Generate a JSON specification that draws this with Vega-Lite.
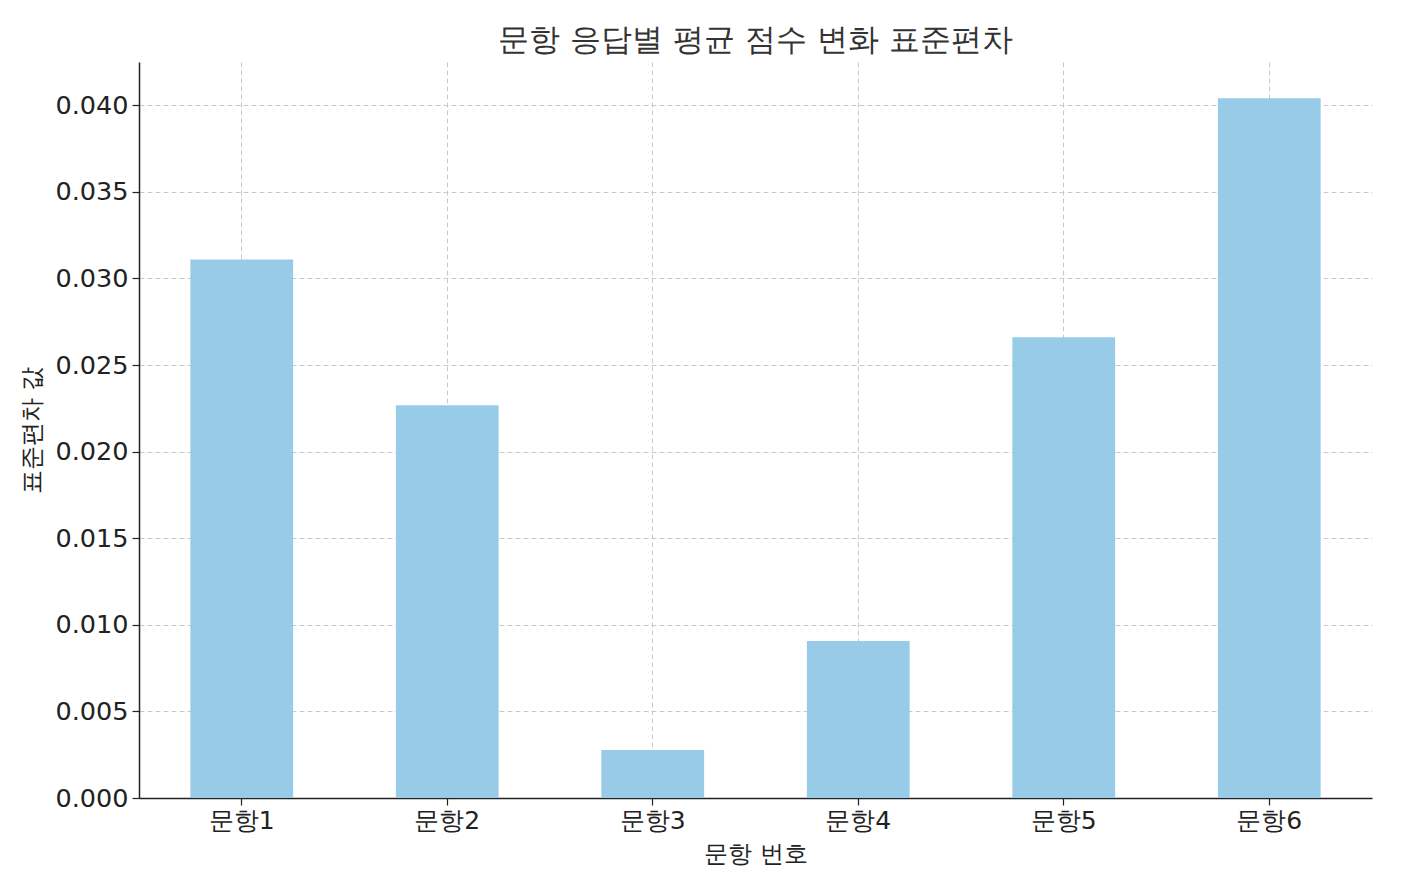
{
  "$schema": "https://vega.github.io/schema/vega-lite/v6.json",
  "width": 1233,
  "height": 736,
  "autosize": "none",
  "padding": {"left": 139, "top": 62, "right": 30, "bottom": 86},
  "background": "white",
  "config": {
    "font": "DejaVu Sans",
    "view": {"stroke": null}
  },
  "title": {
    "text": "문항 응답별 평균 점수 변화 표준편차",
    "font": "DejaVu Sans",
    "fontSize": 31,
    "fontWeight": "normal",
    "color": "#333333",
    "anchor": "middle",
    "frame": "group",
    "offset": 5
  },
  "data": {
    "values": [
      {"항목": "문항1", "값": 0.0311},
      {"항목": "문항2", "값": 0.02268},
      {"항목": "문항3", "값": 0.00277},
      {"항목": "문항4", "값": 0.00906},
      {"항목": "문항5", "값": 0.02661},
      {"항목": "문항6", "값": 0.0404}
    ]
  },
  "mark": {"type": "bar", "color": "#97cbe7"},
  "encoding": {
    "x": {
      "field": "항목",
      "type": "nominal",
      "sort": null,
      "scale": {"paddingInner": 0.5, "paddingOuter": 0.25},
      "axis": {
        "title": "문항 번호",
        "titleFontSize": 24,
        "titleFontWeight": "normal",
        "titleColor": "#222222",
        "titlePadding": 9,
        "labelAngle": 0,
        "labelFontSize": 25,
        "labelColor": "#222222",
        "labelPadding": 3,
        "tickSize": 7,
        "tickColor": "#222222",
        "tickWidth": 1.2,
        "domainColor": "#222222",
        "domainWidth": 1.5,
        "grid": true,
        "gridColor": "#c8c8c8",
        "gridDash": [5, 3],
        "gridWidth": 1
      }
    },
    "y": {
      "field": "값",
      "type": "quantitative",
      "scale": {"domain": [0, 0.0425], "nice": false, "zero": true},
      "axis": {
        "title": "표준편차 값",
        "titleFontSize": 24,
        "titleFontWeight": "normal",
        "titleColor": "#222222",
        "titlePadding": 10,
        "values": [0, 0.005, 0.01, 0.015, 0.02, 0.025, 0.03, 0.035, 0.04],
        "format": ".3f",
        "labelFontSize": 25.5,
        "labelColor": "#222222",
        "labelPadding": 4,
        "tickSize": 7,
        "tickColor": "#222222",
        "tickWidth": 1.2,
        "domainColor": "#222222",
        "domainWidth": 1.5,
        "grid": true,
        "gridColor": "#c8c8c8",
        "gridDash": [5, 3],
        "gridWidth": 1
      }
    }
  }
}
